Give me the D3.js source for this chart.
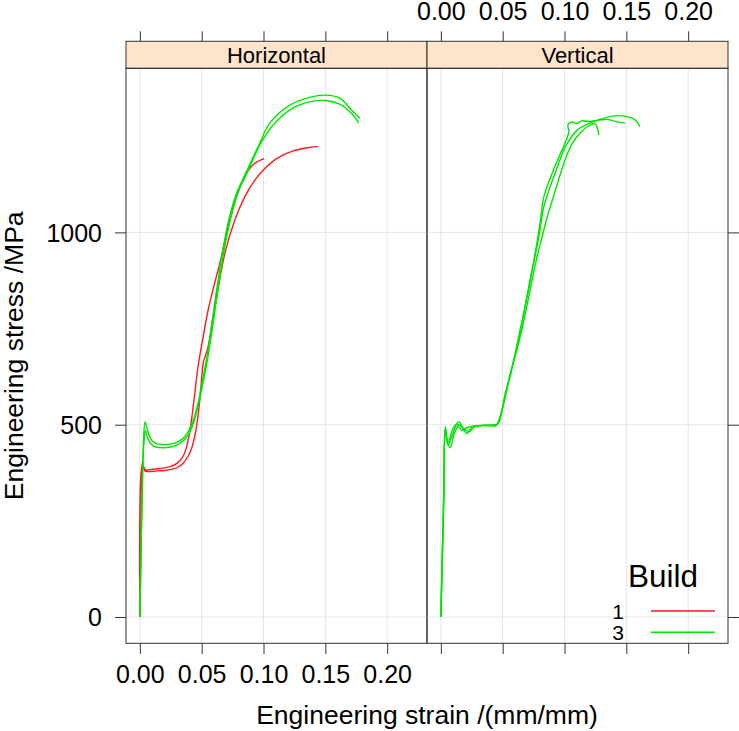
<!DOCTYPE html>
<html><head><meta charset="utf-8">
<script src="https://cdn.jsdelivr.net/npm/d3@7"></script>
<style>
body{margin:0;background:#fff}
svg{display:block}
text{font-family:"Liberation Sans",Arial,Helvetica,sans-serif;fill:#000}
</style>
</head><body>
<svg id="chart" width="739" height="731"></svg>
<script>
// ---------- data ----------
const panels = ["Horizontal", "Vertical"];
const builds = ["1", "3"];
const buildColors = ["#ff1a1a", "#00e600"];
const xTicks = [0, 0.05, 0.10, 0.15, 0.20];
const xTickLabels = ["0.00", "0.05", "0.10", "0.15", "0.20"];
const yTicks = [0, 500, 1000];
const yTickLabels = ["0", "500", "1000"];

// Horizontal, build 1 (red)
const horizB1a = [[0,0],[0.0008,200],[0.0014,375],[0.0022,405],[0.003,390],[0.005,382],[0.01,384],[0.016,386],[0.022,389],[0.027,394],[0.031,402],[0.035,418],[0.038,445],[0.041,495],[0.044,570],[0.047,650],[0.051,725],[0.055,795],[0.06,862],[0.0647,920],[0.0728,1032],[0.0795,1106],[0.0863,1154],[0.093,1180],[0.1005,1192]];
const horizB1b = [[0,0],[0.0012,380],[0.0025,395],[0.004,380],[0.008,378],[0.014,380],[0.02,381],[0.026,384],[0.031,390],[0.035,400],[0.039,418],[0.042,440],[0.045,480],[0.048,550],[0.0505,640],[0.0512,660],[0.0518,668],[0.055,700],[0.0593,780],[0.0687,945],[0.0768,1032],[0.0849,1093],[0.093,1136],[0.101,1166],[0.1106,1192],[0.124,1212],[0.1375,1221],[0.1442,1223]];
// Horizontal, build 3 (green)
const horizB3a = [[0,0],[0.001,180],[0.002,350],[0.003,460],[0.0042,508],[0.0055,495],[0.0075,472],[0.01,458],[0.014,450],[0.02,448],[0.026,450],[0.031,456],[0.036,468],[0.0418,499],[0.0471,556],[0.0512,625],[0.0552,694],[0.0585,770],[0.063,870],[0.0674,960],[0.0728,1045],[0.078,1100],[0.0836,1140],[0.0957,1223],[0.1051,1284],[0.1213,1331],[0.1375,1351],[0.1496,1357],[0.1617,1349],[0.1712,1318],[0.1779,1297]];
const horizB3b = [[0,0],[0.001,170],[0.002,330],[0.003,440],[0.0045,485],[0.006,468],[0.009,450],[0.013,442],[0.019,440],[0.025,442],[0.031,449],[0.037,464],[0.042,492],[0.047,548],[0.0515,615],[0.0555,685],[0.0595,770],[0.064,870],[0.0685,960],[0.074,1045],[0.08,1110],[0.086,1150],[0.0975,1230],[0.108,1280],[0.123,1322],[0.138,1340],[0.15,1343],[0.162,1333],[0.171,1310],[0.177,1285]];
// Vertical, build 3 (green)
const vertB3a = [[0,0],[0.0012,160],[0.0025,330],[0.0037,495],[0.0057,447],[0.009,470],[0.0125,500],[0.0146,508],[0.018,490],[0.0213,477],[0.0253,495],[0.03,497],[0.0374,499],[0.0442,497],[0.0469,512],[0.0522,573],[0.056,630],[0.062,705],[0.0671,790],[0.072,870],[0.0765,950],[0.0806,1032],[0.0833,1093],[0.09,1154],[0.0968,1206],[0.1015,1240],[0.1035,1262],[0.1028,1280],[0.106,1287],[0.11,1283],[0.114,1290],[0.12,1288],[0.128,1292],[0.135,1294],[0.142,1288],[0.1492,1284]];
const vertB3b = [[0,0],[0.0012,150],[0.0025,320],[0.0035,480],[0.0052,455],[0.0075,440],[0.011,478],[0.015,500],[0.019,488],[0.023,482],[0.027,494],[0.034,498],[0.042,500],[0.046,502],[0.049,530],[0.053,590],[0.058,655],[0.0635,720],[0.069,800],[0.074,880],[0.078,940],[0.082,990],[0.086,1040],[0.0927,1110],[0.0995,1180],[0.106,1230],[0.113,1260],[0.12,1278],[0.1245,1283],[0.1265,1272],[0.1278,1253]];
const vertB3c = [[0,0],[0.0012,170],[0.0025,350],[0.0035,490],[0.006,455],[0.0095,488],[0.013,502],[0.017,485],[0.021,492],[0.027,497],[0.035,498],[0.045,499],[0.048,518],[0.052,580],[0.056,625],[0.061,700],[0.067,790],[0.073,890],[0.0793,989],[0.0833,1067],[0.0914,1145],[0.1008,1223],[0.1102,1266],[0.1237,1288],[0.1399,1303],[0.1507,1301],[0.1574,1292],[0.1609,1275]];

const specimens = [
  {panel: "Horizontal", build: "1", pts: horizB1a},
  {panel: "Horizontal", build: "1", pts: horizB1b},
  {panel: "Horizontal", build: "3", pts: horizB3a},
  {panel: "Horizontal", build: "3", pts: horizB3b},
  {panel: "Vertical",   build: "3", pts: vertB3a},
  {panel: "Vertical",   build: "3", pts: vertB3b},
  {panel: "Vertical",   build: "3", pts: vertB3c}
];

// ---------- layout ----------
const svg = d3.select("#chart");
const panelTop = 68.3, panelBottom = 643.3, stripTop = 41.3;
const panelX = [126, 427, 728];
const axisCol = "#333";
const xDomain = [-0.0112, 0.2322];
const yDomain = [-68.4, 1426.7];

const y = d3.scaleLinear().domain(yDomain).range([panelBottom, panelTop]);
const xs = panels.map((p, i) => d3.scaleLinear().domain(xDomain).range([panelX[i], panelX[i + 1]]));
const color = d3.scaleOrdinal().domain(builds).range(buildColors);

const fmtX = d => xTickLabels[xTicks.indexOf(d)];
const fmtY = d => yTickLabels[yTicks.indexOf(d)];

panels.forEach((p, i) => {
  const x = xs[i];
  const g = svg.append("g");
  svg.append("clipPath").attr("id", "clip" + i).append("rect")
    .attr("x", panelX[i]).attr("y", panelTop)
    .attr("width", panelX[i + 1] - panelX[i]).attr("height", panelBottom - panelTop);
  // grid
  g.selectAll(".gx").data(xTicks).join("line")
    .attr("x1", d => x(d)).attr("x2", d => x(d))
    .attr("y1", panelTop).attr("y2", panelBottom)
    .attr("stroke", "#e6e6e6").attr("stroke-width", 1);
  g.selectAll(".gy").data(yTicks).join("line")
    .attr("x1", panelX[i]).attr("x2", panelX[i + 1])
    .attr("y1", d => y(d)).attr("y2", d => y(d))
    .attr("stroke", "#e6e6e6").attr("stroke-width", 1);
  // curves
  const line = d3.line().x(d => x(d[0])).y(d => y(d[1])).curve(d3.curveCatmullRom.alpha(0.5));
  g.append("g").attr("clip-path", `url(#clip${i})`)
    .selectAll("path").data(specimens.filter(s => s.panel === p)).join("path")
    .attr("d", s => line(s.pts))
    .attr("fill", "none").attr("stroke", s => color(s.build))
    .attr("stroke-width", 1.4).attr("stroke-linejoin", "round");
  // strip
  g.append("rect").attr("x", panelX[i]).attr("y", stripTop)
    .attr("width", panelX[i + 1] - panelX[i]).attr("height", panelTop - stripTop)
    .attr("fill", "#ffe5cc").attr("stroke", axisCol).attr("stroke-width", 1);
  g.append("text").attr("x", (panelX[i] + panelX[i + 1]) / 2).attr("y", 62.7)
    .attr("text-anchor", "middle").style("font-size", "22px").text(p);
  // panel border
  g.append("rect").attr("x", panelX[i]).attr("y", panelTop)
    .attr("width", panelX[i + 1] - panelX[i]).attr("height", panelBottom - panelTop)
    .attr("fill", "none").attr("stroke", axisCol).attr("stroke-width", 1);

  const top = svg.append("g").attr("transform", `translate(0,${stripTop})`)
    .call(d3.axisTop(x).tickValues(xTicks).tickSize(10).tickPadding(0)
      .tickFormat(i === 1 ? fmtX : () => ""));
  const bot = svg.append("g").attr("transform", `translate(0,${panelBottom})`)
    .call(d3.axisBottom(x).tickValues(xTicks).tickSize(10.7).tickPadding(0)
      .tickFormat(i === 0 ? fmtX : () => ""));
  [top, bot].forEach(a => {
    a.select(".domain").remove();
    a.selectAll(".tick line").attr("stroke", axisCol);
    a.selectAll("text").style("font-size", "25px").attr("font-family", null).attr("fill", "#000");
  });
  top.selectAll("text").attr("y", -21.8).attr("dy", null);
  bot.selectAll("text").attr("y", 39.7).attr("dy", null);
});

const left = svg.append("g").attr("transform", `translate(${panelX[0]},0)`)
  .call(d3.axisLeft(y).tickValues(yTicks).tickSize(11).tickPadding(0).tickFormat(fmtY));
const right = svg.append("g").attr("transform", `translate(${panelX[2]},0)`)
  .call(d3.axisRight(y).tickValues(yTicks).tickSize(11).tickFormat(() => ""));
[left, right].forEach(a => {
  a.select(".domain").remove();
  a.selectAll(".tick line").attr("stroke", axisCol);
  a.selectAll("text").style("font-size", "25px").attr("font-family", null).attr("fill", "#000");
});
left.selectAll("text").attr("x", -24).attr("dy", "0.36em");

svg.append("text").attr("transform", `translate(23,${(panelTop + panelBottom) / 2}) rotate(-90)`)
  .attr("text-anchor", "middle").style("font-size", "26.5px").text("Engineering stress /MPa");
svg.append("text").attr("x", (panelX[0] + panelX[2]) / 2).attr("y", 724)
  .attr("text-anchor", "middle").style("font-size", "26.5px").text("Engineering strain /(mm/mm)");

const leg = svg.append("g");
leg.append("text").attr("x", 628).attr("y", 587).style("font-size", "31.5px").text("Build");
builds.forEach((b, i) => {
  const yy = 611 + i * 21.3;
  leg.append("text").attr("x", 624).attr("y", yy + 7.5).attr("text-anchor", "end")
    .style("font-size", "21px").text(b);
  leg.append("line").attr("x1", 651).attr("x2", 715).attr("y1", yy).attr("y2", yy)
    .attr("stroke", color(b)).attr("stroke-width", 1.4);
});
</script>
</body></html>
